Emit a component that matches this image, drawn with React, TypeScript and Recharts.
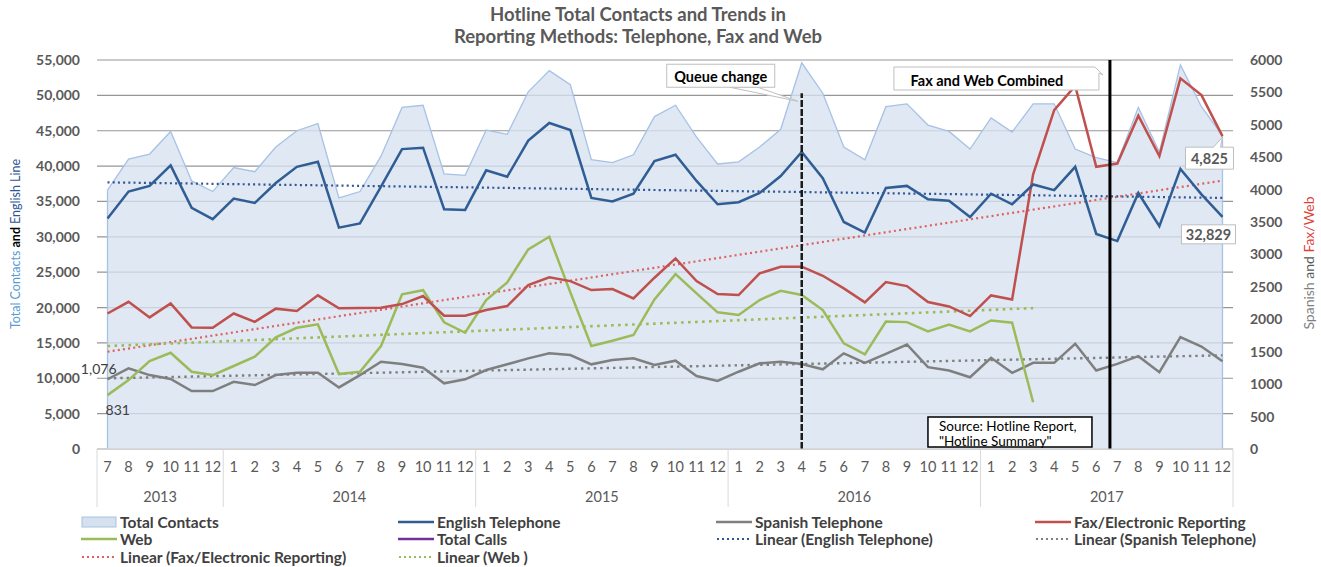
import React from "react";
import {
  ComposedChart,
  Area,
  Line,
  XAxis,
  YAxis,
  CartesianGrid,
  ReferenceLine,
  ReferenceDot,
  LabelList,
} from "recharts";

// month categories, Jul 2013 .. Dec 2017
const months = [
  "7", "8", "9", "10", "11", "12",
  "1", "2", "3", "4", "5", "6", "7", "8", "9", "10", "11", "12",
  "1", "2", "3", "4", "5", "6", "7", "8", "9", "10", "11", "12",
  "1", "2", "3", "4", "5", "6", "7", "8", "9", "10", "11", "12",
  "1", "2", "3", "4", "5", "6", "7", "8", "9", "10", "11", "12",
];
const years = ["2013", "2014", "2015", "2016", "2017"];
const yearMonthCounts = [6, 12, 12, 12, 12];

const totalContacts = [
  36600, 41000, 41700, 44900, 37900, 36400,
  39800, 39200, 42700, 45000, 46000, 35500, 36400, 41400, 48300, 48600, 38900, 38700,
  45100, 44500, 50500, 53500, 51500, 40900, 40500, 41600, 47000, 48600, 44100, 40300,
  40600, 42700, 45200, 54600, 50300, 42700, 40900, 48400, 48800, 45800, 44900, 42400,
  46800, 44800, 48800, 48800, 42400, 41200, 40500, 48300, 42000, 54300, 48400, 44300,
];
const englishTelephone = [
  32600, 36400, 37200, 40100, 34100, 32500,
  35400, 34800, 37600, 39900, 40600, 31300, 31900, 37100, 42400, 42600, 33900, 33800,
  39400, 38500, 43600, 46100, 45100, 35500, 35000, 36100, 40700, 41600, 37900, 34600,
  34900, 36200, 38600, 42000, 38300, 32100, 30600, 36900, 37200, 35300, 35100, 32800,
  36100, 34600, 37400, 36600, 39900, 30400, 29400, 36200, 31500, 39600, 36000, 32829,
];
const spanishTelephone = [
  1076, 1244, 1140, 1080, 894, 894,
  1037, 987, 1140, 1177, 1177, 950, 1140, 1346, 1311, 1254, 1013, 1075,
  1218, 1306, 1398, 1475, 1450, 1306, 1372, 1398, 1295, 1362, 1126, 1049,
  1192, 1321, 1346, 1311, 1229, 1475, 1328, 1468, 1612, 1262, 1210, 1107,
  1406, 1174, 1329, 1329, 1622, 1210, 1313, 1432, 1185, 1725, 1581, 1354,
];
const faxElectronic = [
  2090, 2270, 2030, 2245, 1875, 1870,
  2090, 1960, 2165, 2130, 2370, 2170, 2175, 2180, 2235, 2360, 2055, 2055,
  2143, 2205, 2529, 2647, 2590, 2452, 2467, 2323, 2642, 2940, 2590, 2390,
  2375, 2709, 2812, 2812, 2672, 2478, 2262, 2575, 2513, 2266, 2199, 2050,
  2369, 2307, 4238, 5227, 5600, 4352, 4403, 5140, 4517, 5717, 5459, 4825,
];
const web = [
  831, 1063, 1357, 1485, 1192, 1140,
  1280, 1423, 1722, 1870, 1922, 1156, 1192, 1588, 2385, 2450, 1955, 1793,
  2298, 2570, 3079, 3274, 2416, 1588, 1670, 1758, 2308, 2698, 2400, 2108,
  2066, 2298, 2441, 2375, 2143, 1630, 1460, 1967, 1957, 1813, 1921, 1813,
  1983, 1947, 721,
];

// trend lines: [start index, start value, end index, end value]
const englishTrend = [0, 37700, 53, 35500];
const spanishTrend = [0, 1090, 53, 1445];
const faxTrend = [0, 1500, 53, 4140];
const webTrend = [0, 1588, 44, 2173];

const leftTicks = [0, 5000, 10000, 15000, 20000, 25000, 30000, 35000, 40000, 45000, 50000, 55000];
const rightTicks = [0, 500, 1000, 1500, 2000, 2500, 3000, 3500, 4000, 4500, 5000, 5500, 6000];

const queueChangeMonth = 33; // Apr 2016
const combinedMonth = 47.65; // between Jun and Jul 2017

const data = months.map((m, i) => ({
  i,
  month: m,
  total: totalContacts[i],
  english: englishTelephone[i],
  spanish: spanishTelephone[i],
  fax: faxElectronic[i],
  web: i < web.length ? web[i] : null,
}));

const monthTicks = months.map((_, i) => i);
const yearBounds: number[] = [-0.5];
const yearCenters: number[] = [];
yearMonthCounts.forEach((c) => {
  const start = yearBounds[yearBounds.length - 1];
  yearCenters.push(start + c / 2);
  yearBounds.push(start + c);
});

// how far the year separators reach below the plot, in left-axis units
const SEP_DEPTH = -8200;

const FONT = "Lato, 'Open Sans', sans-serif";
const C = {
  area: "#d6e1ef",
  areaStroke: "#a7c2e5",
  english: "#2f5d94",
  spanish: "#7f7f7f",
  fax: "#c0504d",
  web: "#9bbb59",
  calls: "#7030a0",
  grid: "#969696",
  text: "#595959",
  sep: "#d9d9d9",
};

const fmt = (v: number) => v.toLocaleString("en-US");

function LeftTitle() {
  const cx = 15;
  const cy = 244;
  return (
    <text
      x={cx}
      y={cy}
      transform={`rotate(-90 ${cx} ${cy})`}
      textAnchor="middle"
      dominantBaseline="central"
      fontFamily={FONT}
      fontSize={12.5}
    >
      <tspan fill="#5b9bd5">Total Contacts </tspan>
      <tspan fill="#000" fontWeight={700}>and </tspan>
      <tspan fill="#2f5597">English Line</tspan>
    </text>
  );
}

function RightTitle() {
  const cx = 1308;
  const cy = 263;
  return (
    <text
      x={cx}
      y={cy}
      transform={`rotate(-90 ${cx} ${cy})`}
      textAnchor="middle"
      dominantBaseline="central"
      fontFamily={FONT}
      fontSize={14}
    >
      <tspan fill="#7f7f7f">Spanish </tspan>
      <tspan fill="#595959">and </tspan>
      <tspan fill="#e0403a">Fax/Web</tspan>
    </text>
  );
}

// boxed value label on the last point
function lastBox(kind: "fax" | "english") {
  return (props: any) => {
    const { x, y, value, index } = props;
    if (index !== months.length - 1) return null;
    if (kind === "fax") {
      const bx = x - 37;
      const by = y + 11;
      return (
        <g>
          <path
            d={`M${bx},${by} L${x - 9},${by} L${x},${y + 1} L${x - 2},${by} L${bx + 48},${by} L${bx + 48},${by + 22} L${bx},${by + 22} Z`}
            fill="#fff"
            stroke="#bfbfbf"
          />
          <text x={bx + 24} y={by + 11} textAnchor="middle" dominantBaseline="central" fontFamily={FONT} fontSize={14.5} fontWeight={700} fill="#595959">
            {fmt(value)}
          </text>
        </g>
      );
    }
    const bx = x - 41;
    const by = y + 8;
    return (
      <g>
        <rect x={bx} y={by} width={54} height={19} fill="#fff" stroke="#bfbfbf" />
        <text x={bx + 27} y={by + 10} textAnchor="middle" dominantBaseline="central" fontFamily={FONT} fontSize={14.5} fontWeight={700} fill="#595959">
          {fmt(value)}
        </text>
      </g>
    );
  };
}

function firstLabel(pos: "above" | "below") {
  return (props: any) => {
    const { x, y, value, index } = props;
    if (index !== 0) return null;
    return pos === "above" ? (
      <text x={x + 9} y={y - 5} textAnchor="end" fontFamily={FONT} fontSize={14} fill="#404040">
        {fmt(value)}
      </text>
    ) : (
      <text x={x - 2} y={y + 9} dominantBaseline="hanging" fontFamily={FONT} fontSize={14} fill="#404040">
        {fmt(value)}
      </text>
    );
  };
}

function QueueBox(p: any) {
  const { cx, cy } = p;
  return (
    <g>
      <polygon points={`${cx - 72},${cy - 6} ${cx - 44},${cy - 6} ${cx - 4},${cy + 8}`} fill="#fff" stroke="#bfbfbf" />
      <rect x={cx - 135} y={cy - 29} width={108} height={23} fill="#fff" stroke="#bfbfbf" />
      <text x={cx - 81} y={cy - 17} textAnchor="middle" dominantBaseline="central" fontFamily={FONT} fontSize={14.5} fontWeight={700} fill="#000">
        Queue change
      </text>
    </g>
  );
}

function CombinedBox(p: any) {
  const { cx, cy } = p;
  const x0 = cx - 216;
  const x1 = cx - 11;
  return (
    <g>
      <path
        d={`M${x0},${cy + 7} L${x1 - 4},${cy + 7} L${x1 + 4},${cy + 15} L${x1},${cy + 13} L${x1},${cy + 30} L${x0},${cy + 30} Z`}
        fill="#fff"
        stroke="#bfbfbf"
      />
      <text x={x0 + 93} y={cy + 20} textAnchor="middle" dominantBaseline="central" fontFamily={FONT} fontSize={14.5} fontWeight={700} fill="#000">
        Fax and Web Combined
      </text>
    </g>
  );
}

function SourceBox(p: any) {
  const { cx, cy } = p;
  return (
    <g>
      <rect x={cx} y={cy - 32} width={164} height={30} fill="#fff" stroke="#000" strokeWidth={1.5} />
      <text x={cx + 11} y={cy - 23} dominantBaseline="central" fontFamily={FONT} fontSize={13.5} fill="#000">
        Source: Hotline Report,
      </text>
      <text x={cx + 11} y={cy - 8} dominantBaseline="central" fontFamily={FONT} fontSize={13.5} fill="#000">
        "Hotline Summary"
      </text>
    </g>
  );
}

const legendItems = [
  { label: "Total Contacts", kind: "area", color: C.area },
  { label: "English Telephone", kind: "line", color: C.english },
  { label: "Spanish Telephone", kind: "line", color: C.spanish },
  { label: "Fax/Electronic Reporting", kind: "line", color: C.fax },
  { label: "Web", kind: "line", color: C.web },
  { label: "Total Calls", kind: "line", color: C.calls },
  { label: "Linear (English Telephone)", kind: "dot", color: "#2f5597" },
  { label: "Linear (Spanish Telephone)", kind: "dot", color: C.spanish },
  { label: "Linear (Fax/Electronic Reporting)", kind: "dot", color: "#e06060" },
  { label: "Linear (Web )", kind: "dot", color: C.web },
];

function LegendBlock() {
  const colX = [81, 398, 716, 1035];
  const rowY = [522, 539, 557];
  return (
    <svg width={1321} height={567} style={{ position: "absolute", left: 0, top: 0, pointerEvents: "none" }}>
      <text x={638} y={14} textAnchor="middle" dominantBaseline="central" fontFamily={FONT} fontSize={18.5} fontWeight={700} fill={C.text}>
        Hotline Total Contacts and Trends in
      </text>
      <text x={638} y={36} textAnchor="middle" dominantBaseline="central" fontFamily={FONT} fontSize={18.5} fontWeight={700} fill={C.text}>
        Reporting Methods: Telephone, Fax and Web
      </text>
      {legendItems.map((it, k) => {
        const x = colX[k % 4];
        const y = rowY[Math.floor(k / 4)];
        return (
          <g key={it.label}>
            {it.kind === "area" && (
              <rect x={x + 1} y={y - 5} width={34} height={10} fill={it.color} stroke={C.areaStroke} />
            )}
            {it.kind === "line" && <line x1={x} x2={x + 36} y1={y} y2={y} stroke={it.color} strokeWidth={2.5} />}
            {it.kind === "dot" && (
              <line x1={x + 1} x2={x + 36} y1={y} y2={y} stroke={it.color} strokeWidth={2} strokeDasharray="2 3" />
            )}
            <text x={x + 39} y={y} dominantBaseline="central" fontFamily={FONT} fontSize={15.5} fontWeight={700} fill="#404040">
              {it.label}
            </text>
          </g>
        );
      })}
    </svg>
  );
}

const tickStyle = { fontFamily: FONT, fontSize: 14, fontWeight: 700, fill: C.text };

export default function App() {
  const last = months.length - 1;
  return (
    <div style={{ position: "absolute", left: 0, top: 0, width: 1321, height: 567, background: "#fff" }}>
      <ComposedChart width={1321} height={567} data={data} margin={{ top: 60, right: 0, bottom: 58, left: 0 }}>
        <CartesianGrid yAxisId="left" xAxisId="m" vertical={false} stroke={C.grid} strokeWidth={1.2} />
        <XAxis
          xAxisId="m"
          dataKey="i"
          type="number"
          domain={[-0.5, last + 0.5]}
          allowDataOverflow
          ticks={monthTicks}
          interval={0}
          tickFormatter={(v: number) => months[v] ?? ""}
          height={30}
          tickSize={0}
          tickMargin={13}
          axisLine={{ stroke: C.sep }}
          tickLine={false}
          tick={{ ...tickStyle, fontSize: 14.5, fontWeight: 400 }}
        />
        <XAxis
          xAxisId="y"
          dataKey="i"
          type="number"
          domain={[-0.5, last + 0.5]}
          allowDataOverflow
          ticks={yearCenters}
          interval={0}
          tickFormatter={(v: number) => years[yearCenters.indexOf(v)] ?? ""}
          height={30}
          tickSize={0}
          tickMargin={13}
          axisLine={false}
          tickLine={false}
          tick={{ ...tickStyle, fontSize: 14.5, fontWeight: 400 }}
        />
        <YAxis
          yAxisId="left"
          orientation="left"
          width={97}
          domain={[0, 55000]}
          ticks={leftTicks}
          tickFormatter={fmt}
          axisLine={false}
          tickLine={false}
          tickSize={0}
          tickMargin={17}
          tick={tickStyle}
          label={<LeftTitle />}
        />
        <YAxis
          yAxisId="right"
          orientation="right"
          width={88}
          domain={[0, 6000]}
          ticks={rightTicks}
          axisLine={false}
          tickLine={false}
          tickSize={0}
          tickMargin={17}
          tick={tickStyle}
          label={<RightTitle />}
        />

        {yearBounds.map((b) => (
          <ReferenceLine
            key={`sep-${b}`}
            xAxisId="m"
            yAxisId="left"
            ifOverflow="visible"
            segment={[{ x: b, y: 0 }, { x: b, y: SEP_DEPTH }]}
            stroke={C.sep}
            strokeWidth={1}
          />
        ))}

        <Area
          xAxisId="m"
          yAxisId="left"
          type="linear"
          dataKey="total"
          fill={C.area}
          fillOpacity={0.78}
          stroke={C.areaStroke}
          strokeWidth={1.3}
          isAnimationActive={false}
        />
        <ReferenceLine xAxisId="m" yAxisId="left" segment={[{ x: 0, y: 0 }, { x: 0, y: totalContacts[0] }]} stroke={C.areaStroke} strokeWidth={1.3} />
        <ReferenceLine xAxisId="m" yAxisId="left" segment={[{ x: last, y: 0 }, { x: last, y: totalContacts[last] }]} stroke={C.areaStroke} strokeWidth={1.3} />

        <ReferenceLine
          xAxisId="m"
          yAxisId="left"
          segment={[{ x: englishTrend[0], y: englishTrend[1] }, { x: englishTrend[2], y: englishTrend[3] }]}
          stroke="#2f5597"
          strokeWidth={2.2}
          strokeDasharray="2 3.2"
        />
        <ReferenceLine
          xAxisId="m"
          yAxisId="right"
          segment={[{ x: spanishTrend[0], y: spanishTrend[1] }, { x: spanishTrend[2], y: spanishTrend[3] }]}
          stroke={C.spanish}
          strokeWidth={2.4}
          strokeDasharray="2.4 4"
        />
        <ReferenceLine
          xAxisId="m"
          yAxisId="right"
          segment={[{ x: faxTrend[0], y: faxTrend[1] }, { x: faxTrend[2], y: faxTrend[3] }]}
          stroke="#e06060"
          strokeWidth={2.2}
          strokeDasharray="2 3.2"
        />
        <ReferenceLine
          xAxisId="m"
          yAxisId="right"
          segment={[{ x: webTrend[0], y: webTrend[1] }, { x: webTrend[2], y: webTrend[3] }]}
          stroke={C.web}
          strokeWidth={2.6}
          strokeDasharray="2.6 4.4"
        />

        <Line xAxisId="m" yAxisId="right" type="linear" dataKey="spanish" stroke={C.spanish} strokeWidth={2.5} dot={false} isAnimationActive={false}>
          <LabelList dataKey="spanish" content={firstLabel("above")} />
        </Line>
        <Line xAxisId="m" yAxisId="right" type="linear" dataKey="web" stroke={C.web} strokeWidth={2.5} dot={false} isAnimationActive={false}>
          <LabelList dataKey="web" content={firstLabel("below")} />
        </Line>
        <Line xAxisId="m" yAxisId="right" type="linear" dataKey="fax" stroke={C.fax} strokeWidth={2.5} dot={false} isAnimationActive={false}>
          <LabelList dataKey="fax" content={lastBox("fax")} />
        </Line>
        <Line xAxisId="m" yAxisId="left" type="linear" dataKey="english" stroke={C.english} strokeWidth={2.5} dot={false} isAnimationActive={false}>
          <LabelList dataKey="english" content={lastBox("english")} />
        </Line>

        <ReferenceLine
          xAxisId="m"
          yAxisId="left"
          segment={[{ x: queueChangeMonth, y: 0 }, { x: queueChangeMonth, y: 50300 }]}
          stroke="#1a1a1a"
          strokeWidth={2.5}
          strokeDasharray="7 2"
        />
        <ReferenceLine
          xAxisId="m"
          yAxisId="left"
          segment={[{ x: combinedMonth, y: 0 }, { x: combinedMonth, y: 55000 }]}
          stroke="#000"
          strokeWidth={3}
        />
        <ReferenceDot xAxisId="m" yAxisId="left" x={queueChangeMonth} y={50300} r={0} shape={QueueBox} />
        <ReferenceDot xAxisId="m" yAxisId="left" x={combinedMonth} y={55000} r={0} shape={CombinedBox} />
        <ReferenceDot xAxisId="m" yAxisId="left" x={39} y={0} r={0} shape={SourceBox} />
      </ComposedChart>
      <LegendBlock />
    </div>
  );
}
